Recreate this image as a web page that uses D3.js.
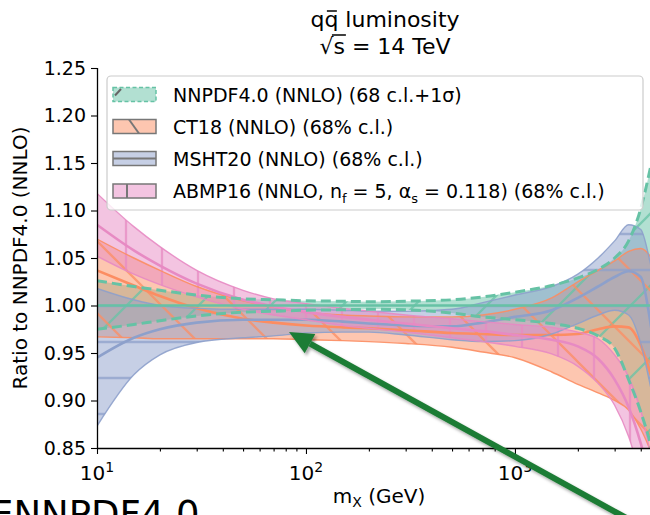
<!DOCTYPE html>
<html><head><meta charset="utf-8">
<script src="https://cdn.jsdelivr.net/npm/d3@7"></script>
<style>
body{margin:0;background:#fff}
svg{display:block}
text{font-family:"DejaVu Sans",sans-serif;fill:#000}
</style>
</head><body>
<svg id="chart" width="650" height="515"></svg>
<script>
// ---------------- data ----------------
const mass = [10,15,20,30,50,70,100,150,200,300,500,700,1000,1500,2000,2500,3000,3500,4000,4500,5000];

const nnpdfCentral = [1,1,1,1,1,1,1,1,1,1,1,1,1,1,1,1,1,1,1,1,1];
const nnpdfUpper   = [1.026,1.020,1.016,1.011,1.007,1.006,1.005,1.0045,1.004,1.0045,1.006,1.009,1.014,1.021,1.029,1.038,1.050,1.068,1.102,1.15,1.2];
const nnpdfLower   = [0.975,0.980,0.984,0.989,0.993,0.994,0.995,0.9955,0.996,0.9955,0.992,0.988,0.985,0.981,0.976,0.968,0.955,0.922,0.888,0.85,0.80];

const ct18Central  = [1.037,1.021,1.010,0.997,0.986,0.982,0.979,0.977,0.976,0.974,0.971,0.970,0.969,0.969,0.970,0.975,0.978,0.977,0.958,0.925,0.89];
const ct18Upper    = [1.070,1.050,1.037,1.020,1.005,0.998,0.993,0.990,0.989,0.988,0.988,0.990,0.996,1.008,1.025,1.037,1.047,1.057,1.060,1.05,1.03];
const ct18Lower    = [0.967,0.966,0.965,0.965,0.965,0.965,0.964,0.963,0.962,0.960,0.956,0.951,0.945,0.930,0.917,0.908,0.900,0.890,0.870,0.845,0.82];

const mshtCentral  = [0.945,0.966,0.975,0.982,0.985,0.985,0.985,0.983,0.981,0.979,0.978,0.982,0.988,0.995,1.008,1.020,1.030,1.036,1.030,0.975,0.90];
const mshtUpper    = [1.018,1.006,1.000,0.997,0.996,0.996,0.996,0.995,0.994,0.994,0.996,1.003,1.011,1.020,1.033,1.050,1.068,1.085,1.080,1.040,1.00];
const mshtLower    = [0.873,0.927,0.948,0.961,0.966,0.968,0.971,0.972,0.972,0.969,0.964,0.962,0.963,0.970,0.981,0.990,0.995,0.990,0.960,0.910,0.86];

const abmpCentral  = [1.085,1.058,1.042,1.023,1.006,0.999,0.993,0.988,0.985,0.981,0.976,0.973,0.969,0.964,0.957,0.944,0.922,0.893,0.855,0.81,0.77];
const abmpUpper    = [1.118,1.083,1.062,1.037,1.016,1.007,1.002,0.997,0.994,0.990,0.986,0.983,0.980,0.977,0.972,0.965,0.948,0.925,0.890,0.84,0.80];
const abmpLower    = [1.052,1.033,1.022,1.009,0.996,0.990,0.985,0.979,0.976,0.972,0.966,0.962,0.957,0.949,0.936,0.918,0.895,0.862,0.820,0.78,0.74];

const yTicks = [0.85,0.90,0.95,1.00,1.05,1.10,1.15,1.20,1.25];
const xMajorTicks = [10,100,1000];
const xMinorTicks = [20,30,40,50,60,70,80,90,200,300,400,500,600,700,800,900,2000,3000,4000,5000];

const titleLine1 = "qq luminosity";
const titleLine2 = "\u221as = 14 TeV";
const xLabelMain = "m", xLabelSub = "X", xLabelRest = " (GeV)";
const yLabel = "Ratio to NNPDF4.0 (NNLO)";

const legendEntries = [
  {key:"nnpdf", parts:[["NNPDF4.0 (NNLO) (68 c.l.+1\u03c3)",""]]},
  {key:"ct18",  parts:[["CT18 (NNLO) (68% c.l.)",""]]},
  {key:"msht",  parts:[["MSHT20 (NNLO) (68% c.l.)",""]]},
  {key:"abmp",  parts:[["ABMP16 (NNLO, n",""],["f","sub"],[" = 5, \u03b1",""],["s","sub"],[" = 0.118) (68% c.l.)",""]]}
];

(function(){
const colors = {nnpdf:"#66c2a5", ct18:"#fc8d62", msht:"#8da0cb", abmp:"#e78ac3"};
const sets = [
  {key:"nnpdf", c:nnpdfCentral, u:nnpdfUpper, l:nnpdfLower, hatch:"slash"},
  {key:"ct18",  c:ct18Central,  u:ct18Upper,  l:ct18Lower,  hatch:"back"},
  {key:"msht",  c:mshtCentral,  u:mshtUpper,  l:mshtLower,  hatch:"horiz"},
  {key:"abmp",  c:abmpCentral,  u:abmpUpper,  l:abmpLower,  hatch:"vert"}
];

const svg = d3.select("#chart");
const pL = 97, pR = 661, pT = 68, pB = 448;
const x = d3.scaleLog().domain([10,5000]).range([pL,pR]);
const y = d3.scaleLinear().domain([0.85,1.25]).range([pB,pT]);

const defs = svg.append("defs");
defs.append("clipPath").attr("id","plotclip")
  .append("rect").attr("x",pL).attr("y",pT).attr("width",pR-pL).attr("height",pB-pT);

function makePattern(id, type, color){
  let w, h, d;
  if(type==="slash"){w=72;h=72;d="M-18,18L18,-18M0,72L72,0M54,90L90,54";}
  else if(type==="back"){w=72;h=72;d="M0,0L72,72M-18,54L18,90M54,-18L90,18";}
  else if(type==="horiz"){w=36;h=36;d="M-2,18L38,18";}
  else {w=36;h=36;d="M18,-2L18,38";}
  const p = defs.append("pattern").attr("id",id).attr("patternUnits","userSpaceOnUse")
    .attr("width",w).attr("height",h);
  p.append("path").attr("d",d).attr("stroke",color).attr("stroke-width",2.3)
    .attr("stroke-opacity",0.75).attr("fill","none");
}
sets.forEach(s=>makePattern("hatch-"+s.key, s.hatch, colors[s.key]));

const shadow = defs.append("filter").attr("id","shadow").attr("x","-20%").attr("y","-20%").attr("width","140%").attr("height","140%");
shadow.append("feDropShadow").attr("dx",2).attr("dy",2.5).attr("stdDeviation",1.6)
  .attr("flood-color","#000").attr("flood-opacity",0.35);

const plot = svg.append("g").attr("clip-path","url(#plotclip)");
const curve = d3.curveMonotoneX;
const area = (s)=> d3.area().curve(curve)
  .x((d,i)=>x(mass[i])).y0((d,i)=>y(s.l[i])).y1((d,i)=>y(s.u[i]));
const line = (arr)=> d3.line().curve(curve).x((d,i)=>x(mass[i])).y((d,i)=>y(arr[i]));

sets.forEach(s=>{
  plot.append("path").attr("d",area(s)(mass)).attr("fill",colors[s.key]).attr("fill-opacity",0.5);
});
sets.forEach(s=>{
  plot.append("path").attr("d",area(s)(mass)).attr("fill","url(#hatch-"+s.key+")");
});
[sets[1],sets[2],sets[3],sets[0]].forEach(s=>{
  const col = colors[s.key];
  if(s.key==="nnpdf"){
    [s.u,s.l].forEach(arr=>plot.append("path").attr("d",line(arr)(mass)).attr("fill","none")
      .attr("stroke",col).attr("stroke-width",3).attr("stroke-dasharray","10,5"));
  } else {
    [s.u,s.l].forEach(arr=>plot.append("path").attr("d",line(arr)(mass)).attr("fill","none")
      .attr("stroke",col).attr("stroke-width",1.4).attr("stroke-opacity",0.9));
  }
  plot.append("path").attr("d",line(s.c)(mass)).attr("fill","none")
    .attr("stroke",col).attr("stroke-width",2.6);
});

// ---------------- axes ----------------
const yAxis = svg.append("g").attr("transform",`translate(${pL},0)`)
  .call(d3.axisLeft(y).tickValues(yTicks).tickFormat(d3.format(".2f")).tickSize(6).tickPadding(5));
const xAxis = svg.append("g").attr("transform",`translate(0,${pB})`)
  .call(d3.axisBottom(x).tickValues(xMajorTicks).tickFormat(()=> "").tickSize(6).tickPadding(6));
svg.append("g").attr("transform",`translate(0,${pB})`)
  .call(d3.axisBottom(x).tickValues(xMinorTicks).tickFormat(()=> "").tickSize(3.5))
  .call(g=>g.select(".domain").remove());
[yAxis,xAxis].forEach(g=>{
  g.selectAll("text").attr("font-size",19).attr("font-family","DejaVu Sans").attr("fill","#000");
  g.select(".domain").attr("stroke","#000").attr("stroke-width",1.3);
});
svg.selectAll("g.tick line").attr("stroke","#000").attr("stroke-width",1.1);
yAxis.select(".domain").attr("d",`M0.5,${pT}V${pB}`);
xAxis.select(".domain").attr("d",`M${pL},0.5H${pR}`);

xMajorTicks.forEach(v=>{
  const t = svg.append("text").attr("x",x(v)).attr("y",480).attr("text-anchor","middle").attr("font-size",20);
  t.append("tspan").text("10");
  t.append("tspan").text(String(Math.round(Math.log10(v)))).attr("font-size",14).attr("dy",-8);
});

const xl = svg.append("text").attr("x",(pL+pR)/2).attr("y",503).attr("text-anchor","middle").attr("font-size",20);
xl.append("tspan").text(xLabelMain);
xl.append("tspan").text(xLabelSub).attr("font-size",14).attr("dy",4);
xl.append("tspan").text(xLabelRest).attr("dy",-4);

svg.append("text").attr("transform",`translate(27,${(pT+pB)/2}) rotate(-90)`)
  .attr("text-anchor","middle").attr("font-size",20).text(yLabel);

const cx = 385;
const t1 = svg.append("text").attr("x",cx).attr("y",27).attr("text-anchor","middle").attr("font-size",22).text(titleLine1);
{
  const n = t1.node();
  const a = n.getStartPositionOfChar(1), b = n.getEndPositionOfChar(1);
  svg.append("line").attr("x1",a.x+2.5).attr("x2",b.x-1.5).attr("y1",11).attr("y2",11)
    .attr("stroke","#000").attr("stroke-width",1.5);
}
const t2 = svg.append("text").attr("x",cx).attr("y",54).attr("text-anchor","middle").attr("font-size",22).text(titleLine2);
{
  const n = t2.node();
  const r = n.getEndPositionOfChar(0), s1 = n.getEndPositionOfChar(1);
  svg.append("line").attr("x1",r.x-1.5).attr("x2",s1.x+1).attr("y1",35).attr("y2",35)
    .attr("stroke","#000").attr("stroke-width",1.5);
}

// ---------------- legend ----------------
const lg = svg.append("g");
lg.append("rect").attr("x",107).attr("y",76).attr("width",536).attr("height",134).attr("rx",4)
  .attr("fill","#fff").attr("fill-opacity",0.8).attr("stroke","#cccccc").attr("stroke-width",1.2);
const rowY = [94.5,126.5,158.5,191];
legendEntries.forEach((e,i)=>{
  const cy = rowY[i], hx = 113, hw = 43, hh = 14, hy = cy-hh/2;
  const col = colors[e.key];
  lg.append("rect").attr("x",hx).attr("y",hy).attr("width",hw).attr("height",hh)
    .attr("fill",col).attr("fill-opacity",0.5);
  if(e.key==="nnpdf"){
    lg.append("rect").attr("x",hx).attr("y",hy).attr("width",hw).attr("height",hh)
      .attr("fill","none").attr("stroke",col).attr("stroke-width",1.5).attr("stroke-dasharray","4,2.5");
    lg.append("line").attr("x1",hx+2).attr("y1",hy+8).attr("x2",hx+8).attr("y2",hy+1.5)
      .attr("stroke","#666").attr("stroke-width",2);
  } else {
    lg.append("rect").attr("x",hx).attr("y",hy).attr("width",hw).attr("height",hh)
      .attr("fill","none").attr("stroke","#777").attr("stroke-width",1.5);
    if(e.key==="ct18") lg.append("line").attr("x1",hx+16).attr("y1",hy).attr("x2",hx+26).attr("y2",hy+hh).attr("stroke","#777").attr("stroke-width",2);
    if(e.key==="msht") lg.append("line").attr("x1",hx).attr("y1",cy).attr("x2",hx+hw).attr("y2",cy).attr("stroke","#777").attr("stroke-width",2);
    if(e.key==="abmp") lg.append("line").attr("x1",hx+14).attr("y1",hy).attr("x2",hx+14).attr("y2",hy+hh).attr("stroke","#777").attr("stroke-width",2);
  }
  const t = lg.append("text").attr("x",173).attr("y",cy+7).attr("font-size",19);
  e.parts.forEach(([s,kind],j)=>{
    const ts = t.append("tspan").text(s);
    if(kind==="sub") ts.attr("font-size",13).attr("dy",5);
    else if(j>0 && e.parts[j-1][1]==="sub") ts.attr("dy",-5);
  });
});

// ---------------- annotation arrow + text ----------------
const tip = [289,332], tail = [628,519];
const ang = Math.atan2(tail[1]-tip[1], tail[0]-tip[0]);
const headLen = 24, headHalf = 11;
const bx = tip[0]+headLen*Math.cos(ang), by = tip[1]+headLen*Math.sin(ang);
const px = -Math.sin(ang), py = Math.cos(ang);
const ag = svg.append("g").attr("filter","url(#shadow)");
ag.append("line").attr("x1",tail[0]).attr("y1",tail[1]).attr("x2",bx).attr("y2",by)
  .attr("stroke","#1e7b35").attr("stroke-width",6);
ag.append("path").attr("d",`M${tip[0]},${tip[1]}L${bx+px*headHalf},${by+py*headHalf}L${bx-px*headHalf},${by-py*headHalf}Z`)
  .attr("fill","#1e7b35");

svg.append("text").attr("x",-10).attr("y",527).attr("font-size",37).text("ENNPDF4.0");
})();
</script>
</body></html>
